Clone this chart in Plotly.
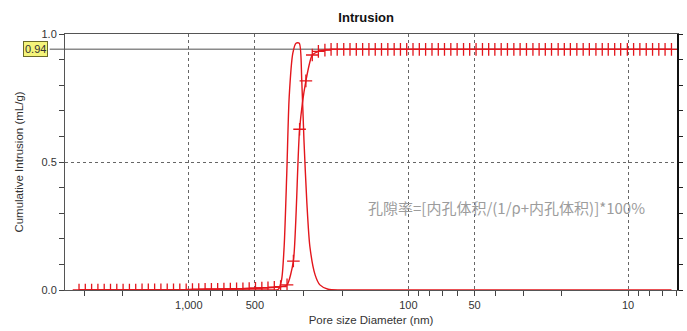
import plotly.graph_objects as go

# ---------------- data ----------------
pore_diameter_nm = [
    3162, 2960, 2771, 2594, 2428, 2273, 2128, 1992, 1864, 1745,
    1633, 1529, 1431, 1340, 1254, 1174, 1099, 1028, 962.5, 901,
    843, 789, 739, 692, 647, 606, 567, 531, 497, 465,
    436, 408, 382, 357, 334, 313, 293, 274, 257, 240,
    225, 211, 197, 184.5, 172.7, 161.6, 151.3, 141.6, 132.6, 124.1,
    116.1, 108.7, 101.8, 95.3, 89.2, 83.5, 78.1, 73.1, 68.5, 64.1,
    60.0, 56.1, 52.6, 49.2, 46.0, 43.1, 40.4, 37.8, 35.4, 33.1,
    31.0, 29.0, 27.1, 25.4, 23.8, 22.3, 20.8, 19.5, 18.3, 17.1,
    16.0, 15.0, 14.0, 13.1, 12.3, 11.5, 10.8, 10.07, 9.43, 8.83,
    8.26, 7.73, 7.24, 6.78, 6.34,
]
cumulative_intrusion = [
    0.0, 0.0, 0.0, 0.0, 0.0, 0.0, 0.0, 0.0, 0.0, 0.0,
    0.001, 0.001, 0.001, 0.001, 0.001, 0.001, 0.001, 0.001, 0.002, 0.002,
    0.003, 0.003, 0.003, 0.004, 0.004, 0.005, 0.005, 0.006, 0.007, 0.008,
    0.009, 0.011, 0.013, 0.02, 0.113, 0.628, 0.817, 0.918, 0.932, 0.937,
    0.94, 0.94, 0.94, 0.94, 0.94, 0.94, 0.94, 0.94, 0.94, 0.94,
    0.94, 0.94, 0.94, 0.94, 0.94, 0.94, 0.94, 0.94, 0.94, 0.94,
    0.94, 0.94, 0.94, 0.94, 0.94, 0.94, 0.94, 0.94, 0.94, 0.94,
    0.94, 0.94, 0.94, 0.94, 0.94, 0.94, 0.94, 0.94, 0.94, 0.94,
    0.94, 0.94, 0.94, 0.94, 0.94, 0.94, 0.94, 0.94, 0.94, 0.94,
    0.94, 0.94, 0.94, 0.94, 0.94,
]

peak_diameter_nm = [3162, 1000, 500, 420, 391, 378, 368, 358, 349, 336,
                    325, 314, 306, 299, 290, 281, 266, 253, 232, 205,
                    150, 6.34]
peak_value = [0.0, 0.0, 0.0, 0.0, 0.003, 0.04, 0.17, 0.456, 0.755, 0.925,
              0.964, 0.964, 0.82, 0.586, 0.34, 0.17, 0.059, 0.02, 0.003, 0.0,
              0.0, 0.0]

plateau_value = 0.94

x_tick_values = [1000, 500, 100, 50, 10]
x_tick_labels = ["1,000", "500", "100", "50", "10"]
x_minor_ticks = [3000, 2000, 900, 800, 700, 600, 400, 300, 200,
                 90, 80, 70, 60, 40, 30, 20, 9, 8, 7, 6]
y_tick_values = [0.0, 0.5, 1.0]
y_tick_labels = ["0.0", "0.5", "1.0"]
y_all_ticks = [0.0, 0.1, 0.2, 0.3, 0.4, 0.5, 0.6, 0.7, 0.8, 0.9, 1.0]

title_text = "Intrusion"
x_title = "Pore size Diameter (nm)"
y_title = "Cumulative Intrusion (mL/g)"
note_text = "孔隙率=[内孔体积/(1/ρ+内孔体积)]*100%"

# ---------------- figure ----------------
RED = "#e3161c"
X_RANGE = [3.5638, 0.7769]   # log10 range, reversed
FONT = "Liberation Sans, Arial, sans-serif"

fig = go.Figure()

fig.add_trace(go.Scatter(
    x=peak_diameter_nm, y=peak_value, mode="lines",
    line=dict(color=RED, width=1.4, shape="spline", smoothing=0.7),
    hoverinfo="skip", showlegend=False))

fig.add_trace(go.Scatter(
    x=pore_diameter_nm, y=cumulative_intrusion, mode="lines+markers",
    line=dict(color=RED, width=1.4, shape="spline", smoothing=0.6),
    marker=dict(symbol="cross-thin", size=9, color=RED,
                line=dict(color=RED, width=1.3)),
    showlegend=False))

# empty helper trace so the overlay axes (minor ticks / right axis) get drawn
fig.add_trace(go.Scatter(x=[], y=[], xaxis="x2", yaxis="y2",
                         showlegend=False, hoverinfo="skip"))

# plateau reference line
fig.add_shape(type="line", xref="paper", yref="y",
              x0=-0.025, x1=1, y0=plateau_value, y1=plateau_value,
              line=dict(color="#8a8a8a", width=1.5), layer="below")

fig.add_annotation(xref="paper", yref="y", x=0, y=plateau_value,
                   xanchor="right", yanchor="middle", xshift=-17,
                   text=f"{plateau_value:.2f}", showarrow=False,
                   font=dict(family=FONT, size=11, color="#333"),
                   bgcolor="#f4f47a", bordercolor="#6b6b2a", borderwidth=1,
                   borderpad=1)

fig.add_annotation(xref="paper", yref="paper", x=0.722, y=0.324,
                   xanchor="center", yanchor="middle", showarrow=False,
                   text=note_text,
                   font=dict(family="Noto Sans CJK SC", size=15, color="#9c9c9c"))

fig.update_layout(
    width=687, height=331,
    margin=dict(l=65, r=10, t=34, b=41, autoexpand=False),
    paper_bgcolor="white", plot_bgcolor="white",
    title=dict(text=f"<b>{title_text}</b>", x=0.533, xref="container",
               y=1 - 17 / 331, yref="container", yanchor="middle",
               xanchor="center", font=dict(family=FONT, size=13, color="#111")),
    xaxis=dict(type="log", range=X_RANGE, automargin=False,
               tickmode="array", tickvals=x_tick_values, ticktext=x_tick_labels,
               ticks="outside", ticklen=5, tickcolor="#444",
               tickfont=dict(family=FONT, size=11, color="#333"),
               showgrid=True, gridcolor="#666", griddash="dot", gridwidth=1,
               showline=True, linecolor="#555", linewidth=1, mirror=True,
               zeroline=False,
               title=dict(text=x_title, standoff=5,
                          font=dict(family=FONT, size=11.5, color="#333"))),
    xaxis2=dict(type="log", range=X_RANGE, overlaying="x", anchor="y",
                side="bottom", tickmode="array", tickvals=x_minor_ticks,
                ticks="outside", ticklen=5, tickcolor="#444", automargin=False,
                showticklabels=False, showgrid=False, showline=False,
                zeroline=False),
    yaxis=dict(range=[0, 1], tickmode="array", tickvals=y_tick_values,
               ticktext=y_tick_labels, ticks="outside", ticklen=5,
               tickcolor="#444", automargin=False,
               tickfont=dict(family=FONT, size=11, color="#333"),
               minor=dict(tickmode="array", tickvals=y_all_ticks,
                          ticks="outside", ticklen=5, tickcolor="#444",
                          showgrid=False),
               showgrid=True, gridcolor="#666", griddash="dot", gridwidth=1,
               showline=True, linecolor="#555", linewidth=1,
               zeroline=False,
               title=dict(text=y_title, standoff=15,
                          font=dict(family=FONT, size=11.5, color="#333"))),
    yaxis2=dict(range=[0, 1], overlaying="y", anchor="x", side="right",
                tickmode="array", tickvals=y_all_ticks, ticks="outside",
                ticklen=4, tickcolor="#222", showticklabels=False,
                automargin=False,
                showgrid=False, showline=True, linecolor="#111", linewidth=2,
                zeroline=False),
)

fig.write_html("out.html")
